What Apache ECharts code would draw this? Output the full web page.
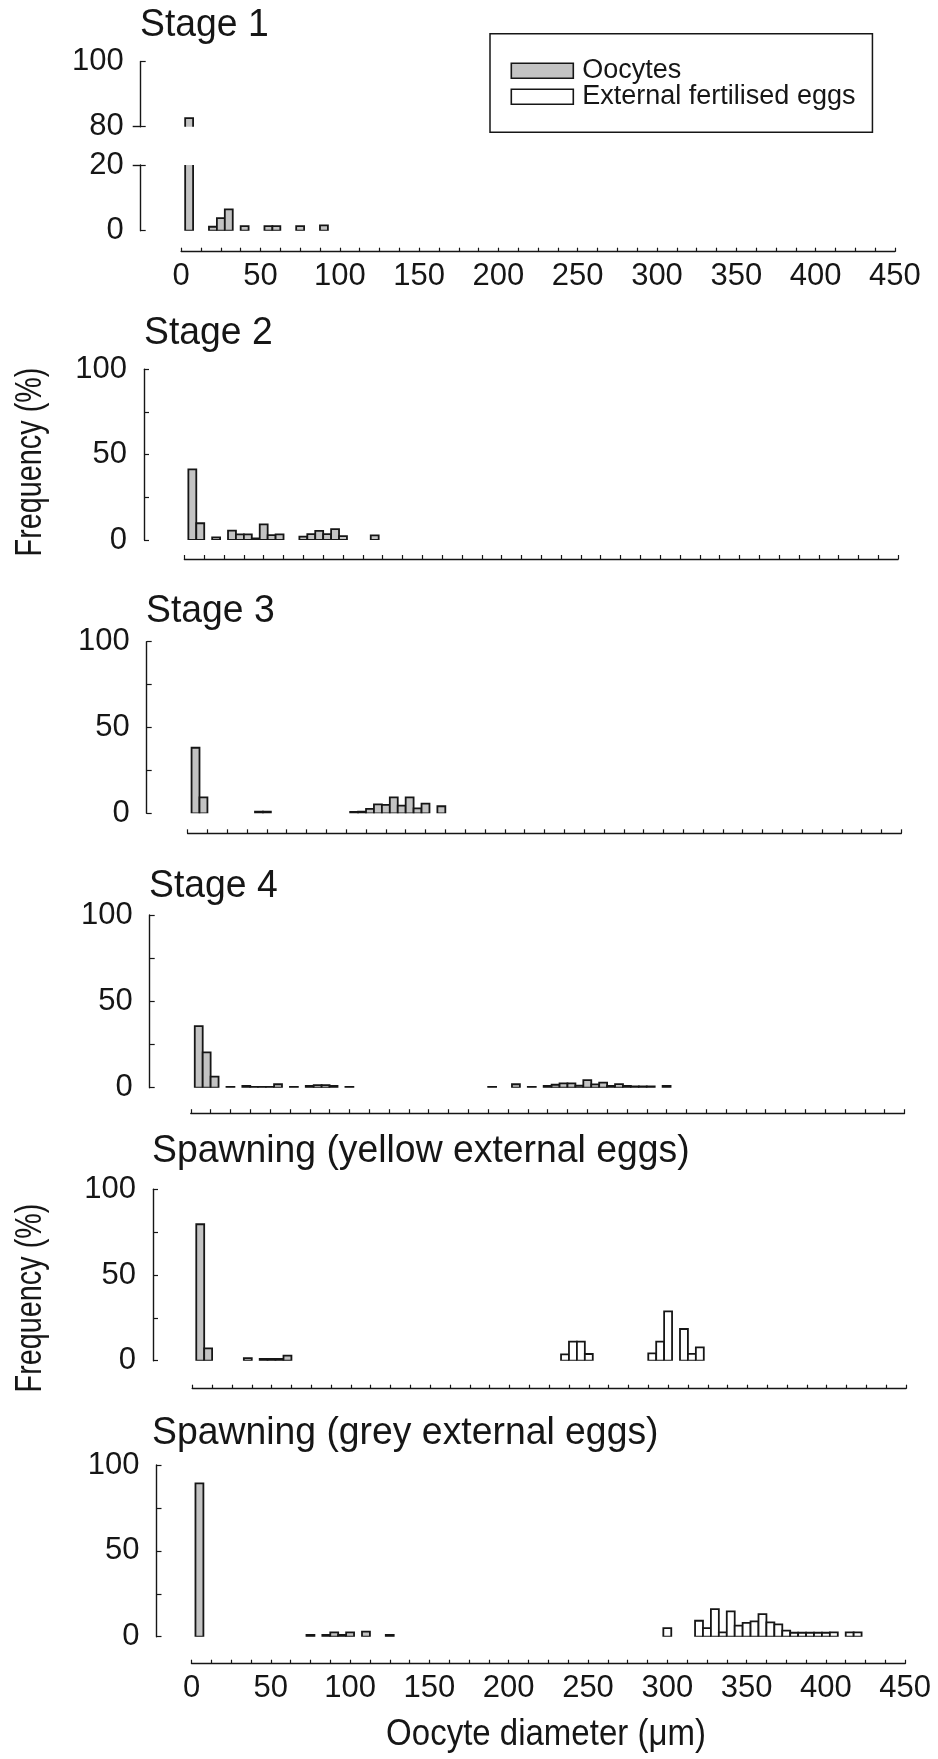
<!DOCTYPE html>
<html>
<head>
<meta charset="utf-8">
<script src="https://cdn.jsdelivr.net/npm/echarts@6/dist/echarts.min.js"></script>
<style>
  html, body { margin: 0; padding: 0; background: #ffffff; }
  #chart { width: 938px; height: 1759px; }
</style>
</head>
<body>
<div id="chart"></div>
<script>
// ---------------------------------------------------------------------------
// Oocyte / egg diameter frequency distributions (5 µm bins, bin centres in µm,
// frequencies in %), one panel per reproductive stage.
// ---------------------------------------------------------------------------
const xTickLabels = [0, 50, 100, 150, 200, 250, 300, 350, 400, 450];
const yTickLabels = [0, 50, 100];
const stage1LowerTicks = [0, 20];
const stage1UpperTicks = [80, 100];

const panelTitles = [
  'Stage 1', 'Stage 2', 'Stage 3', 'Stage 4',
  'Spawning (yellow external eggs)', 'Spawning (grey external eggs)'
];
const seriesNames = ['Oocytes', 'External fertilised eggs'];
const yAxisTitle = 'Frequency (%)';
const xAxisTitle = 'Oocyte diameter (\u03bcm)';

const stage1OocyteDiam = [5, 20, 25, 30, 40, 55, 60, 75, 90];
const stage1OocyteFreq = [82.6, 1.2, 3.8, 6.5, 1.4, 1.4, 1.4, 1.4, 1.6];

const stage2OocyteDiam = [5, 10, 20, 30, 35, 40, 45, 50, 55, 60, 75, 80, 85, 90, 95, 100, 120];
const stage2OocyteFreq = [41.4, 9.8, 1.5, 5.5, 3.3, 3.3, 1.0, 9.2, 2.9, 3.3, 2.0, 3.5, 5.3, 3.5, 6.4, 2.3, 2.7];

const stage3OocyteDiam = [5, 10, 45, 50, 105, 110, 115, 120, 125, 130, 135, 140, 145, 150, 160];
const stage3OocyteFreq = [38.2, 9.3, 1.0, 1.0, 0.8, 1.0, 2.6, 5.2, 4.9, 9.3, 4.5, 9.3, 2.9, 5.6, 4.1];

const stage4OocyteDiam = [5, 10, 15, 25, 35, 40, 45, 50, 55, 65, 75, 80, 85, 90, 100,
  190, 205, 215, 225, 230, 235, 240, 245, 250, 255, 260, 265, 270, 275, 280, 285, 290, 300];
const stage4OocyteFreq = [35.7, 20.5, 6.4, 0.5, 1.0, 0.5, 0.5, 0.5, 2.0, 0.5, 1.0, 1.5, 1.5, 1.0, 0.5,
  0.5, 2.0, 0.5, 1.0, 1.7, 2.5, 2.5, 1.2, 4.4, 1.9, 2.9, 1.0, 2.1, 1.0, 0.8, 0.8, 0.8, 1.0];

const spawnYellowOocyteDiam = [5, 10, 35, 45, 50, 55, 60];
const spawnYellowOocyteFreq = [79.6, 7.2, 1.5, 1.0, 1.0, 1.0, 3.0];
const spawnYellowEggDiam = [235, 240, 245, 250, 290, 295, 300, 310, 315, 320];
const spawnYellowEggFreq = [3.7, 11.1, 11.1, 3.9, 4.3, 11.1, 28.8, 18.5, 4.0, 7.8];

const spawnGreyOocyteDiam = [5, 75, 85, 90, 95, 100, 110, 125];
const spawnGreyOocyteFreq = [89.3, 1.0, 1.0, 2.5, 1.0, 2.5, 3.0, 1.0];
const spawnGreyEggDiam = [300, 320, 325, 330, 335, 340, 345, 350, 355, 360, 365, 370,
  375, 380, 385, 390, 395, 400, 405, 415, 420];
const spawnGreyEggFreq = [5.0, 9.3, 5.0, 16.1, 2.5, 14.8, 6.4, 8.0, 8.9, 13.2, 8.3, 7.2,
  3.5, 2.3, 2.3, 2.3, 2.3, 2.3, 2.5, 2.5, 2.5];

// ---------------------------------------------------------------------------
// Layout and styling
// ---------------------------------------------------------------------------
const FONT = "'Liberation Sans', Arial, Helvetica, sans-serif";
const INK = '#161616';
const OOCYTE_FILL = '#c3c3c3';
const EGG_FILL = '#ffffff';
const BIN = 5;            // bin width, µm
const X_MAX = 450;
const X_TICK_STEP = 12.5;
const GRID_W = X_MAX * 1.586;
const TICK_FONT = 31;

// x0: left of the diameter axis, axisX: frequency axis line,
// top: 100 % level, zero: 0 % level, gap: distance from 0 % to the diameter axis
const PANEL_BOX = [
  { x0: 181.2, axisX: 140.7, top: 61.5,   zero: 230.7,  gap: 21,   titleX: 140, titleY: 25 },
  { x0: 184.4, axisX: 144.0, top: 369.3,  zero: 540.0,  gap: 19,   titleX: 144, titleY: 333 },
  { x0: 187.6, axisX: 146.7, top: 641.7,  zero: 813.3,  gap: 20,   titleX: 146, titleY: 611 },
  { x0: 190.8, axisX: 149.7, top: 915.0,  zero: 1087.7, gap: 25.5, titleX: 149, titleY: 886 },
  { x0: 192.3, axisX: 153.0, top: 1189.3, zero: 1360.7, gap: 28,   titleX: 152, titleY: 1151 },
  { x0: 191.5, axisX: 156.5, top: 1465.0, zero: 1636.7, gap: 27,   titleX: 152, titleY: 1433 }
];
// Stage 1 frequency axis is broken between 20 % and 80 %
const STAGE1_UPPER_BOTTOM = 126.7;  // 80 % level
const STAGE1_LOWER_TOP = 165.0;     // 20 % level

const grids = [];
const xAxes = [];
const yAxes = [];
const series = [];

function addGrid(left, top, bottom) {
  grids.push({ left: left, top: top, width: GRID_W, height: bottom - top, outerBoundsMode: 'none' });
  return grids.length - 1;
}

function addXAxis(gridIndex, gap, labelled, visible) {
  xAxes.push({
    type: 'value', gridIndex: gridIndex, min: 0, max: X_MAX, interval: X_TICK_STEP,
    show: visible, position: 'bottom', offset: gap,
    axisLine: { show: true, onZero: false, lineStyle: { color: INK, width: 1.4 } },
    axisTick: { show: true, inside: true, length: 4, lineStyle: { color: INK, width: 1.2 } },
    axisLabel: {
      show: labelled, margin: 9, fontSize: TICK_FONT, color: INK, fontFamily: FONT,
      formatter: v => (xTickLabels.indexOf(v) >= 0 ? String(v) : '')
    },
    splitLine: { show: false }
  });
  return xAxes.length - 1;
}

function addYAxis(gridIndex, offset, min, max, interval, labels) {
  yAxes.push({
    type: 'value', gridIndex: gridIndex, min: min, max: max, interval: interval,
    position: 'left', offset: offset,
    axisLine: { show: true, onZero: false, lineStyle: { color: INK, width: 1.4 } },
    axisTick: { show: true, inside: true, length: 5, lineStyle: { color: INK, width: 1.2 } },
    axisLabel: {
      margin: 17, fontSize: TICK_FONT, color: INK, fontFamily: FONT,
      formatter: v => (labels.indexOf(v) >= 0 ? String(v) : '')
    },
    splitLine: { show: false }
  });
  return yAxes.length - 1;
}

// short outward cap marking the break of the Stage 1 axis
function addAxisCap(gridIndex, offset, min, max, value) {
  yAxes.push({
    type: 'value', gridIndex: gridIndex, min: min, max: max,
    position: 'left', offset: offset,
    axisLine: { show: false, onZero: false },
    axisTick: { show: true, inside: false, length: 8, customValues: [value],
      lineStyle: { color: INK, width: 1.4 } },
    axisLabel: { show: false },
    splitLine: { show: false }
  });
}

function binRenderer(fill) {
  return function (params, api) {
    const d = api.value(0);
    const f = api.value(1);
    const lo = api.coord([d - BIN / 2, 0]);
    const hi = api.coord([d + BIN / 2, f]);
    return {
      type: 'rect',
      shape: { x: lo[0], y: hi[1], width: hi[0] - lo[0], height: lo[1] - hi[1] },
      style: { fill: fill, stroke: INK, lineWidth: 1.8 }
    };
  };
}

function addBars(name, xi, yi, diam, freq, fill) {
  series.push({
    type: 'custom', name: name, xAxisIndex: xi, yAxisIndex: yi, clip: true, silent: true,
    itemStyle: { color: fill, borderColor: INK, borderWidth: 1.6 },
    data: diam.map((d, i) => [d, freq[i]]),
    renderItem: binRenderer(fill)
  });
}

// Stage 1: two stacked grids for the broken frequency axis
{
  const b = PANEL_BOX[0];
  const off = b.x0 - b.axisX;
  const gUp = addGrid(b.x0, b.top, STAGE1_UPPER_BOTTOM);
  const xUp = addXAxis(gUp, 0, false, false);
  const yUp = addYAxis(gUp, off, 80, 100, 20, stage1UpperTicks);
  addAxisCap(gUp, off, 80, 100, 80);
  addBars(seriesNames[0], xUp, yUp, stage1OocyteDiam, stage1OocyteFreq, OOCYTE_FILL);

  const gLo = addGrid(b.x0, STAGE1_LOWER_TOP, b.zero);
  const xLo = addXAxis(gLo, b.gap, true, true);
  const yLo = addYAxis(gLo, off, 0, 20, 20, stage1LowerTicks);
  addAxisCap(gLo, off, 0, 20, 20);
  addBars(seriesNames[0], xLo, yLo, stage1OocyteDiam, stage1OocyteFreq, OOCYTE_FILL);
}

const panelData = [
  null,
  { oocytes: [stage2OocyteDiam, stage2OocyteFreq] },
  { oocytes: [stage3OocyteDiam, stage3OocyteFreq] },
  { oocytes: [stage4OocyteDiam, stage4OocyteFreq] },
  { oocytes: [spawnYellowOocyteDiam, spawnYellowOocyteFreq], eggs: [spawnYellowEggDiam, spawnYellowEggFreq] },
  { oocytes: [spawnGreyOocyteDiam, spawnGreyOocyteFreq], eggs: [spawnGreyEggDiam, spawnGreyEggFreq] }
];

for (let p = 1; p < PANEL_BOX.length; p++) {
  const b = PANEL_BOX[p];
  const g = addGrid(b.x0, b.top, b.zero);
  const xi = addXAxis(g, b.gap, p === PANEL_BOX.length - 1, true);
  const yi = addYAxis(g, b.x0 - b.axisX, 0, 100, 25, yTickLabels);
  const pd = panelData[p];
  if (pd.eggs) addBars(seriesNames[1], xi, yi, pd.eggs[0], pd.eggs[1], EGG_FILL);
  addBars(seriesNames[0], xi, yi, pd.oocytes[0], pd.oocytes[1], OOCYTE_FILL);
}

// panel headings and axis titles (tall, slightly condensed lettering)
const texts = PANEL_BOX.map((b, i) => ({
  type: 'text', x: b.titleX, y: b.titleY, scaleX: 0.97, silent: true,
  style: { text: panelTitles[i], fontSize: 38.5, fontFamily: FONT, fill: INK,
    align: 'left', verticalAlign: 'middle' }
}));
[462, 1298].forEach(cy => texts.push({
  type: 'text', x: 31, y: cy, rotation: Math.PI / 2, scaleX: 0.8, silent: true,
  style: { text: yAxisTitle, fontSize: 36, fontFamily: FONT, fill: INK,
    align: 'center', verticalAlign: 'middle' }
}));
texts.push({
  type: 'text', x: 546, y: 1735, scaleX: 0.88, silent: true,
  style: { text: xAxisTitle, fontSize: 37.5, fontFamily: FONT, fill: INK,
    align: 'center', verticalAlign: 'middle' }
});

const option = {
  animation: false,
  backgroundColor: '#ffffff',
  textStyle: { fontFamily: FONT, color: INK },
  legend: {
    orient: 'vertical', left: 490, top: 33.7,
    selectedMode: false,
    icon: 'rect', itemWidth: 62, itemHeight: 15, itemGap: -1,
    padding: [23.5, 17, 22, 20.5],
    borderColor: INK, borderWidth: 1.5,
    textStyle: { fontFamily: FONT, fontSize: 27, color: INK, padding: [0, 0, 0, 4] },
    data: [
      { name: seriesNames[0], itemStyle: { color: OOCYTE_FILL, borderColor: INK, borderWidth: 1.6 } },
      { name: seriesNames[1], itemStyle: { color: EGG_FILL, borderColor: INK, borderWidth: 1.6 } }
    ]
  },
  grid: grids,
  xAxis: xAxes,
  yAxis: yAxes,
  series: series,
  graphic: texts
};

const chart = echarts.init(document.getElementById('chart'), null, { renderer: 'canvas' });
chart.setOption(option);
</script>
</body>
</html>
